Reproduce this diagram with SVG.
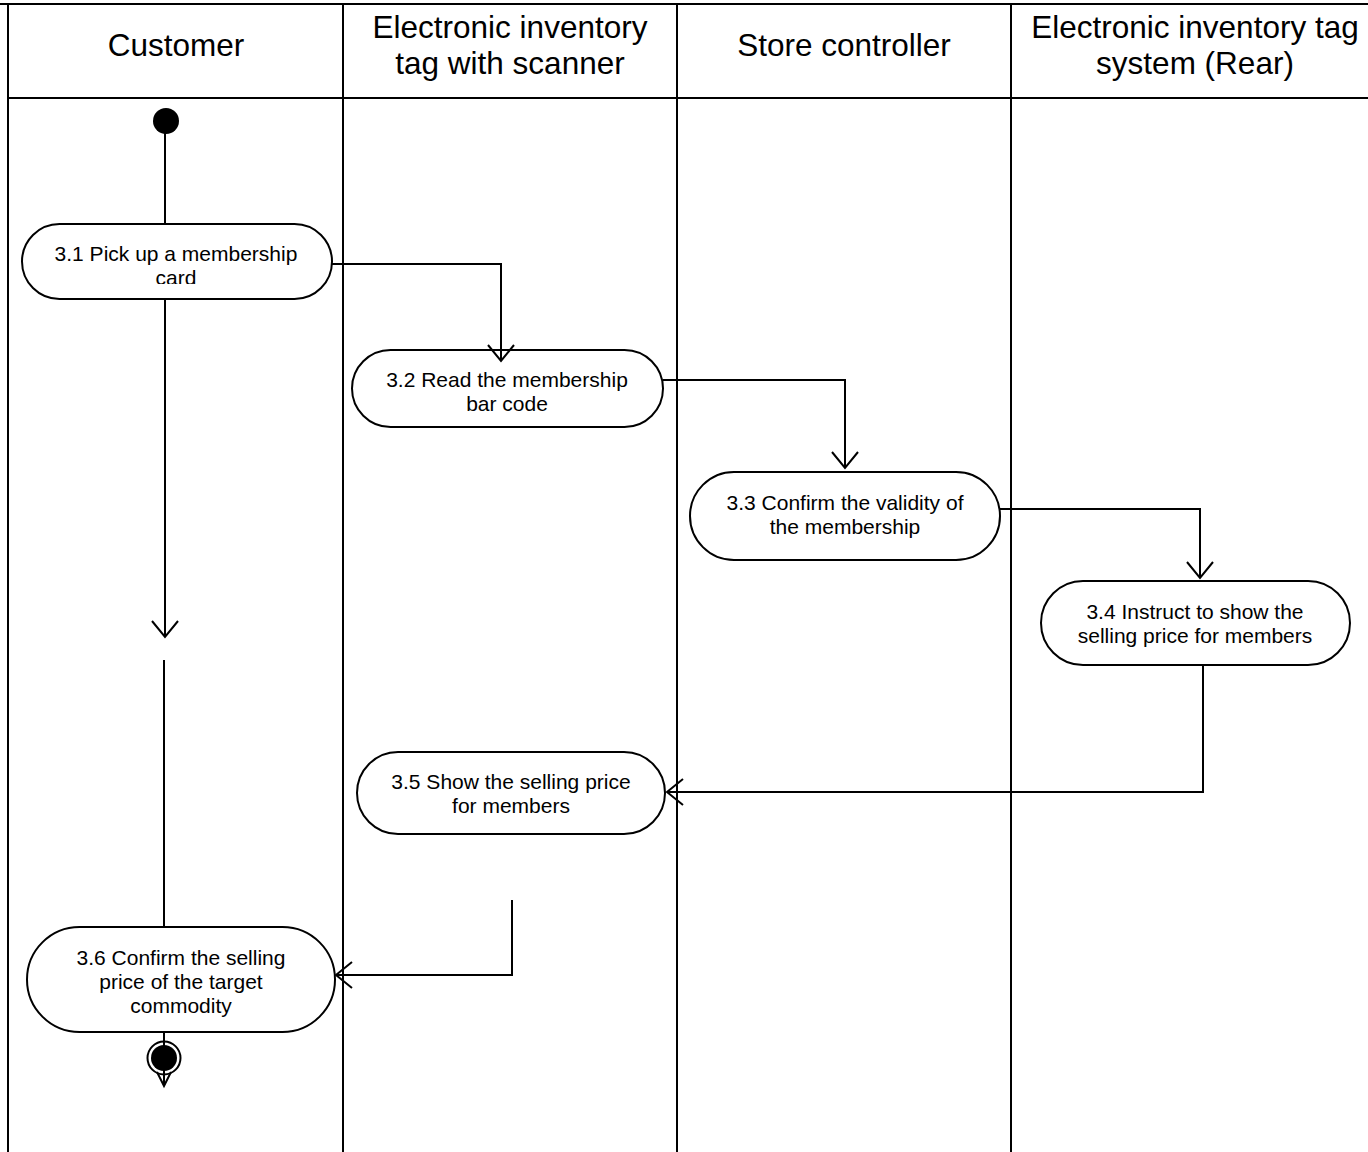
<svg xmlns="http://www.w3.org/2000/svg" width="1368" height="1152" viewBox="0 0 1368 1152">
<style>
.hdr{font-family:"Liberation Sans",Arial,sans-serif;font-size:31.5px;fill:#000;text-anchor:middle}
.lbl{font-family:"Liberation Sans",Arial,sans-serif;font-size:21px;fill:#000;text-anchor:middle}
.pill{fill:#fff;stroke:#000;stroke-width:2}
.lane{stroke:#000;stroke-width:2;fill:none}
.conn{stroke:#000;stroke-width:2;fill:none}
</style>
<defs>
<marker id="arr" markerUnits="userSpaceOnUse" markerWidth="40" markerHeight="40" refX="0" refY="0" viewBox="-20 -20 40 40" orient="auto" overflow="visible">
<path d="M-16,-13 L0,0 L-16,13" fill="none" stroke="#000" stroke-width="2"/>
</marker>
<marker id="arrS" markerUnits="userSpaceOnUse" markerWidth="30" markerHeight="30" refX="0" refY="0" viewBox="-15 -15 30 30" orient="auto" overflow="visible">
<path d="M-14,-7 L0,0 L-14,7" fill="none" stroke="#000" stroke-width="2"/>
</marker>
<clipPath id="clip31"><rect x="22" y="224" width="312" height="60"/></clipPath>
</defs>
<rect width="1368" height="1152" fill="#fff"/>
<g id="swimlanes">
<line class="lane" x1="0" y1="4" x2="1368" y2="4" stroke-width="3.5"/>
<line class="lane" x1="8" y1="4" x2="8" y2="1152" stroke-width="2.5"/>
<line class="lane" x1="8" y1="98" x2="1368" y2="98"/>
<line class="lane" x1="343" y1="4" x2="343" y2="1152"/>
<line class="lane" x1="677" y1="4" x2="677" y2="1152"/>
<line class="lane" x1="1011" y1="4" x2="1011" y2="1152"/>
<text class="hdr" x="176" y="56">Customer</text>
<text class="hdr" x="510" y="38">Electronic inventory</text>
<text class="hdr" x="510" y="74">tag with scanner</text>
<text class="hdr" x="844" y="56">Store controller</text>
<text class="hdr" x="1195" y="38">Electronic inventory tag</text>
<text class="hdr" x="1195" y="74">system (Rear)</text>
</g>
<g id="start">
<circle cx="166" cy="121" r="13" fill="#000"/>
</g>
<g id="n31">
<rect class="pill" x="22" y="224" width="310" height="75" rx="37.5"/>
<g clip-path="url(#clip31)">
<text class="lbl" x="176" y="261">3.1 Pick up a membership</text>
<text class="lbl" x="176" y="285">card</text>
</g>
</g>
<g id="n32">
<rect class="pill" x="352" y="350" width="311" height="77" rx="38.5"/>
<text class="lbl" x="507" y="387">3.2 Read the membership</text>
<text class="lbl" x="507" y="411">bar code</text>
</g>
<g id="n33">
<rect class="pill" x="690" y="472" width="310" height="88" rx="44"/>
<text class="lbl" x="845" y="510">3.3 Confirm the validity of</text>
<text class="lbl" x="845" y="534">the membership</text>
</g>
<g id="n34">
<rect class="pill" x="1041" y="581" width="309" height="84" rx="42"/>
<text class="lbl" x="1195" y="619">3.4 Instruct to show the</text>
<text class="lbl" x="1195" y="643">selling price for members</text>
</g>
<g id="n35">
<rect class="pill" x="357" y="752" width="308" height="82" rx="41"/>
<text class="lbl" x="511" y="789">3.5 Show the selling price</text>
<text class="lbl" x="511" y="813">for members</text>
</g>
<g id="n36">
<rect class="pill" x="27" y="927" width="308" height="105" rx="52.5"/>
<text class="lbl" x="181" y="965">3.6 Confirm the selling</text>
<text class="lbl" x="181" y="989">price of the target</text>
<text class="lbl" x="181" y="1013">commodity</text>
</g>
<g id="connectors">
<line class="conn" x1="165" y1="133" x2="165" y2="224"/>
<line class="conn" x1="165" y1="299" x2="165" y2="637" marker-end="url(#arr)"/>
<line class="conn" x1="164" y1="660" x2="164" y2="927"/>
<polyline class="conn" points="332,264 501,264 501,361" marker-end="url(#arr)"/>
<polyline class="conn" points="663,380 845,380 845,468" marker-end="url(#arr)"/>
<polyline class="conn" points="1000,509 1200,509 1200,578" marker-end="url(#arr)"/>
<polyline class="conn" points="1203,665 1203,792 667,792" marker-end="url(#arr)"/>
<polyline class="conn" points="512,900 512,975 336,975" marker-end="url(#arr)"/>
<line class="conn" x1="164" y1="1032" x2="164" y2="1086" marker-end="url(#arrS)"/>
</g>
<g id="end">
<circle cx="164" cy="1058" r="16.5" fill="none" stroke="#000" stroke-width="2"/>
<circle cx="164" cy="1058" r="13" fill="#000"/>
</g>
</svg>
